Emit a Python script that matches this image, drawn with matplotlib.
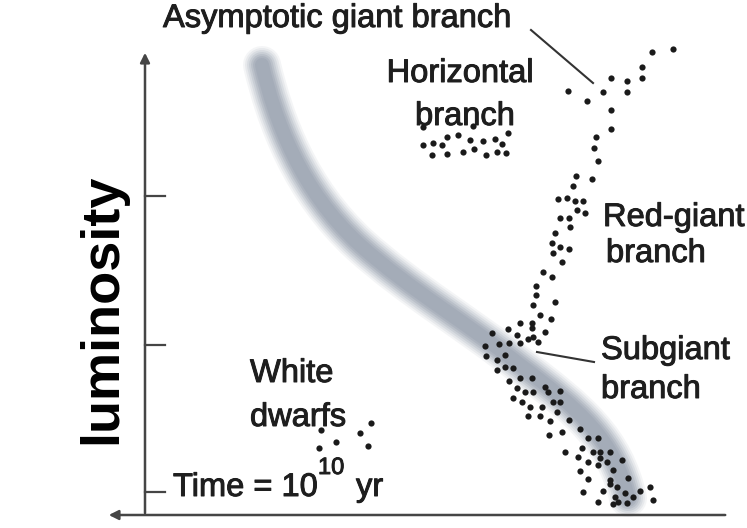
import numpy as np
import matplotlib.pyplot as plt
import matplotlib.patheffects as pe
from matplotlib.path import Path
from matplotlib.patches import PathPatch

# chart units: horizontal = colour/temperature position, vertical = luminosity position
# (measured on the picture's own grid, luminosity grows upward = smaller number)

# giant branch (red-giant + asymptotic giant)
giant_x = [652, 673, 642, 642, 611, 627, 627, 568, 603, 587, 611, 611, 596, 594, 598,
           576, 592, 573, 558, 567, 575, 583, 577, 585, 560, 569, 570, 555, 552, 560,
           569, 553, 562, 543, 552, 536, 536, 555, 533]
giant_y = [52, 49, 67, 78, 78, 81, 92, 91, 92, 101, 110, 129, 137, 148, 161,
           176, 179, 186, 199, 198, 201, 201, 210, 213, 218, 218, 227, 233, 243, 247,
           249, 253, 262, 272, 277, 286, 295, 302, 305]

# subgiant / turnoff region
sub_x = [540, 551, 520, 532, 532, 492, 508, 517, 533, 545, 528, 485, 499, 509, 520, 538,
         486, 497, 505, 497, 505, 513, 509, 520, 532, 517, 525, 533, 545, 548, 560,
         513, 522, 530, 542, 553, 560, 557, 540, 528]
sub_y = [315, 319, 323, 323, 328, 333, 329, 335, 337, 332, 339, 346, 344, 343, 343, 342,
         356, 360, 355, 370, 367, 368, 381, 378, 378, 388, 392, 392, 387, 392, 391,
         398, 402, 407, 407, 402, 402, 412, 416, 416]

# lower main sequence
ms_x = [550, 569, 549, 562, 580, 588, 598, 565, 582, 593, 600, 610, 578, 588, 600, 607,
        598, 622, 613, 580, 610, 628, 588, 610, 617, 603, 583, 625, 640, 650, 633, 615,
        618, 598, 613, 627, 653]
ms_y = [421, 420, 435, 432, 429, 438, 438, 452, 448, 452, 452, 452, 457, 462, 458, 462,
        465, 460, 470, 471, 480, 478, 479, 484, 487, 491, 492, 493, 491, 487, 497, 497,
        502, 502, 504, 503, 500]

# horizontal branch
hb_x = [423, 433, 442, 447, 458, 470, 483, 495, 502, 508, 432, 447, 463, 474, 486, 497, 506, 423, 473]
hb_y = [145, 143, 145, 137, 135, 140, 141, 139, 144, 133, 155, 154, 152, 149, 155, 152, 153, 127, 126]

# white dwarfs
wd_x = [321, 360, 371, 319, 336, 368]
wd_y = [430, 433, 423, 448, 442, 446]

# zero-age main sequence band (bezier knots)
band_pts = [(262, 65), (275, 120), (300, 190), (360, 245),
            (410, 290), (470, 325), (520, 365),
            (580, 410), (615, 440), (628, 498)]

lum_ticks = [196, 345, 492]

fig = plt.figure(figsize=(7.47, 5.28), dpi=100)
ax = fig.add_axes([0, 0, 1, 1])
ax.set_xlim(0, 747)
ax.set_ylim(528, 0)
ax.axis('off')

# blurred main-sequence band
codes = [Path.MOVETO] + [Path.CURVE4] * (len(band_pts) - 1)
band = Path(band_pts, codes)
for w, a in zip([38, 34, 30, 26, 22, 18, 14], [0.07, 0.09, 0.11, 0.13, 0.15, 0.15, 0.12]):
    ax.add_patch(PathPatch(band, fill=False, lw=w * 0.72, edgecolor='#667489',
                           alpha=a, capstyle='round', joinstyle='round'))

# axes with arrows
ax.annotate('', xy=(145, 50), xytext=(145, 516),
            arrowprops=dict(arrowstyle='-|>', color='#454545', lw=1.8, mutation_scale=14))
ax.annotate('', xy=(106, 515), xytext=(728, 515),
            arrowprops=dict(arrowstyle='-|>', color='#454545', lw=1.8, mutation_scale=14))
for t in lum_ticks:
    ax.plot([145, 165], [t, t], color='#454545', lw=1.6)

# stars
dot = dict(s=20, color='#1a1a1a', linewidths=0, zorder=5)
ax.scatter(giant_x, giant_y, **dot)
ax.scatter(sub_x, sub_y, **dot)
ax.scatter(ms_x, ms_y, **dot)
ax.scatter(hb_x, hb_y, **dot)
ax.scatter(wd_x, wd_y, **dot)

# leader lines
ax.plot([531, 593], [30, 83], color='#333333', lw=1.5)
ax.plot([537, 594], [352, 362], color='#333333', lw=1.5)

heavy = [pe.withStroke(linewidth=0.7, foreground='#1e1e1e')]
font = dict(family='Liberation Sans', fontsize=23.5, color='#1e1e1e', va='baseline',
            path_effects=heavy)
ax.text(163, 27, 'Asymptotic giant branch', ha='left', **font)
ax.text(460, 82, 'Horizontal', ha='center', **font)
ax.text(465, 125, 'branch', ha='center', **font)
ax.text(603, 226, 'Red-giant', ha='left', **font)
ax.text(606, 262, 'branch', ha='left', **font)
ax.text(601, 359, 'Subgiant', ha='left', **font)
ax.text(601, 398, 'branch', ha='left', **font)
ax.text(250, 382, 'White', ha='left', **font)
ax.text(250, 426, 'dwarfs', ha='left', **font)
ax.text(173, 496, 'Time = 10', ha='left', **font)
ax.text(318, 474, '10', ha='left', family='Liberation Sans', fontsize=17,
        color='#1e1e1e', va='baseline', path_effects=heavy)
ax.text(356, 496, 'yr', ha='left', **font)

ax.text(102, 309, 'luminosity', rotation=90, ha='center', va='center',
        family='Liberation Sans', fontsize=39, fontweight='bold', color='black')

fig.savefig('out.png', dpi=100)
